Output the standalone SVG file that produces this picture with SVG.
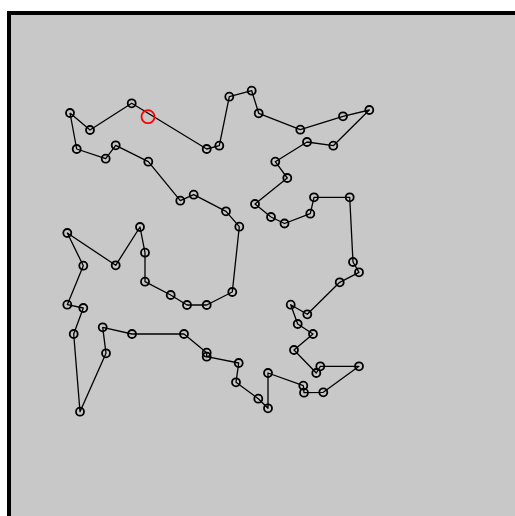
<svg xmlns="http://www.w3.org/2000/svg" width="515" height="516" viewBox="0 0 515 516">
<style>
.n{fill:none;stroke:#000;stroke-width:1.8}
.e{fill:none;stroke:#000;stroke-width:1.3;stroke-linejoin:round}
</style>
<rect x="0" y="0" width="515" height="516" fill="#fff"/>
<rect x="9" y="13" width="508" height="505" fill="#c8c8c8" stroke="#000" stroke-width="4"/>
<g id="connectors">
<polyline class="e" points="70,113 90,130 131.7,103.3 206.7,149 219.3,145.7 229.3,96.7 251.7,90.7 258.7,113.3 300.3,129.7 343,116.3 369.3,110 333.3,145.7 307,142 275.3,161.7 287.3,178 255,204 271,217 284.5,223.5 310.3,213.7 314,197.3 349.7,197.3 353,262 359,272.3 339.7,282.3 307.3,314.3 290.7,304.7 297.7,324 313,334 294,350 316.3,373 320.3,366.3 359,366.3 323.3,392.3 304,392.7 303.3,385.7 268,373 268,408.3 258.3,398.7 236,382.3 238.7,363 206.7,356.7 206.7,352.7 184,334 132,334 102.7,327.3 106,353.3 80,411.7 73.7,334 83.3,308 67.3,304.7 83.3,265.7 67.3,233 115.7,265.3 140,227 145,252.7 145,281.7 170.7,295 187,305 206.7,305 232.3,292 239.3,226.7 226,211.3 193.7,194.7 180.3,200.7 148.3,161.7 115.7,145.3 105.7,158.7 76.7,149 70,113"/>
</g>
<g id="nodes">
<circle id="n1" class="n" cx="70" cy="113" r="4"/>
<circle id="n2" class="n" cx="90" cy="130" r="4"/>
<circle id="n3" class="n" cx="131.7" cy="103.3" r="4"/>
<circle id="n4" class="n" cx="206.7" cy="149" r="4"/>
<circle id="n5" class="n" cx="219.3" cy="145.7" r="4"/>
<circle id="n6" class="n" cx="229.3" cy="96.7" r="4"/>
<circle id="n7" class="n" cx="251.7" cy="90.7" r="4"/>
<circle id="n8" class="n" cx="258.7" cy="113.3" r="4"/>
<circle id="n9" class="n" cx="300.3" cy="129.7" r="4"/>
<circle id="n10" class="n" cx="343" cy="116.3" r="4"/>
<circle id="n11" class="n" cx="369.3" cy="110" r="4"/>
<circle id="n12" class="n" cx="333.3" cy="145.7" r="4"/>
<circle id="n13" class="n" cx="307" cy="142" r="4"/>
<circle id="n14" class="n" cx="275.3" cy="161.7" r="4"/>
<circle id="n15" class="n" cx="287.3" cy="178" r="4"/>
<circle id="n16" class="n" cx="255" cy="204" r="4"/>
<circle id="n17" class="n" cx="271" cy="217" r="4"/>
<circle id="n18" class="n" cx="284.5" cy="223.5" r="4"/>
<circle id="n19" class="n" cx="310.3" cy="213.7" r="4"/>
<circle id="n20" class="n" cx="314" cy="197.3" r="4"/>
<circle id="n21" class="n" cx="349.7" cy="197.3" r="4"/>
<circle id="n22" class="n" cx="353" cy="262" r="4"/>
<circle id="n23" class="n" cx="359" cy="272.3" r="4"/>
<circle id="n24" class="n" cx="339.7" cy="282.3" r="4"/>
<circle id="n25" class="n" cx="307.3" cy="314.3" r="4"/>
<circle id="n26" class="n" cx="290.7" cy="304.7" r="4"/>
<circle id="n27" class="n" cx="297.7" cy="324" r="4"/>
<circle id="n28" class="n" cx="313" cy="334" r="4"/>
<circle id="n29" class="n" cx="294" cy="350" r="4"/>
<circle id="n30" class="n" cx="316.3" cy="373" r="4"/>
<circle id="n31" class="n" cx="320.3" cy="366.3" r="4"/>
<circle id="n32" class="n" cx="359" cy="366.3" r="4"/>
<circle id="n33" class="n" cx="323.3" cy="392.3" r="4"/>
<circle id="n34" class="n" cx="304" cy="392.7" r="4"/>
<circle id="n35" class="n" cx="303.3" cy="385.7" r="4"/>
<circle id="n36" class="n" cx="268" cy="373" r="4"/>
<circle id="n37" class="n" cx="268" cy="408.3" r="4"/>
<circle id="n38" class="n" cx="258.3" cy="398.7" r="4"/>
<circle id="n39" class="n" cx="236" cy="382.3" r="4"/>
<circle id="n40" class="n" cx="238.7" cy="363" r="4"/>
<circle id="n41" class="n" cx="206.7" cy="356.7" r="4"/>
<circle id="n42" class="n" cx="206.7" cy="352.7" r="4"/>
<circle id="n43" class="n" cx="184" cy="334" r="4"/>
<circle id="n44" class="n" cx="132" cy="334" r="4"/>
<circle id="n45" class="n" cx="102.7" cy="327.3" r="4"/>
<circle id="n46" class="n" cx="106" cy="353.3" r="4"/>
<circle id="n47" class="n" cx="80" cy="411.7" r="4"/>
<circle id="n48" class="n" cx="73.7" cy="334" r="4"/>
<circle id="n49" class="n" cx="83.3" cy="308" r="4"/>
<circle id="n50" class="n" cx="67.3" cy="304.7" r="4"/>
<circle id="n51" class="n" cx="83.3" cy="265.7" r="4"/>
<circle id="n52" class="n" cx="67.3" cy="233" r="4"/>
<circle id="n53" class="n" cx="115.7" cy="265.3" r="4"/>
<circle id="n54" class="n" cx="140" cy="227" r="4"/>
<circle id="n55" class="n" cx="145" cy="252.7" r="4"/>
<circle id="n56" class="n" cx="145" cy="281.7" r="4"/>
<circle id="n57" class="n" cx="170.7" cy="295" r="4"/>
<circle id="n58" class="n" cx="187" cy="305" r="4"/>
<circle id="n59" class="n" cx="206.7" cy="305" r="4"/>
<circle id="n60" class="n" cx="232.3" cy="292" r="4"/>
<circle id="n61" class="n" cx="239.3" cy="226.7" r="4"/>
<circle id="n62" class="n" cx="226" cy="211.3" r="4"/>
<circle id="n63" class="n" cx="193.7" cy="194.7" r="4"/>
<circle id="n64" class="n" cx="180.3" cy="200.7" r="4"/>
<circle id="n65" class="n" cx="148.3" cy="161.7" r="4"/>
<circle id="n66" class="n" cx="115.7" cy="145.3" r="4"/>
<circle id="n67" class="n" cx="105.7" cy="158.7" r="4"/>
<circle id="n68" class="n" cx="76.7" cy="149" r="4"/>
</g>
<g id="marker">
<circle cx="148" cy="116.7" r="6.5" fill="none" stroke="#f00" stroke-width="1.8"/>
</g>
</svg>
